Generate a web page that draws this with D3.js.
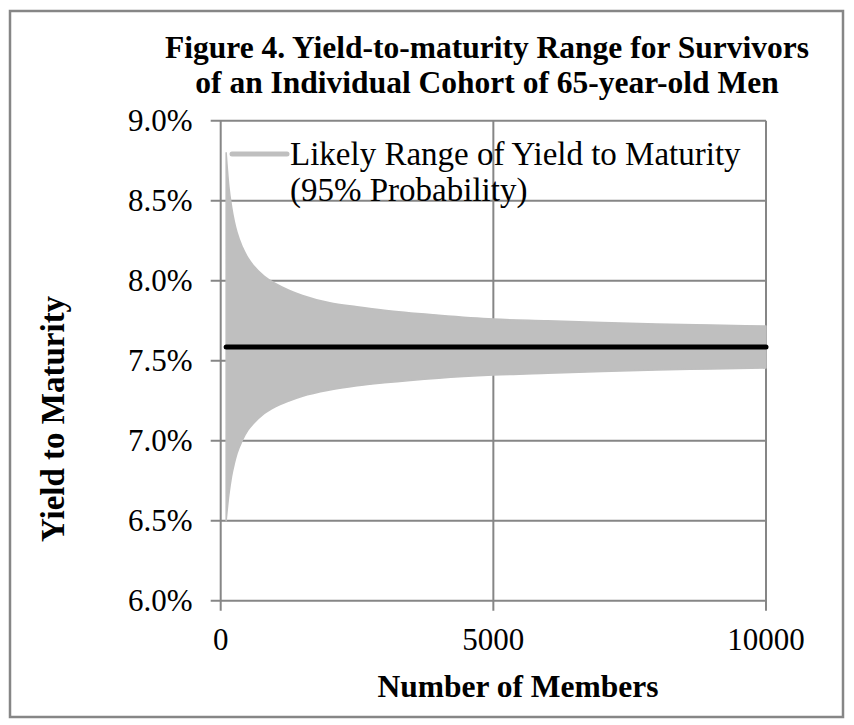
<!DOCTYPE html>
<html lang="en">
    <head>
        <meta charset="UTF-8"/>
        <title>Figure 4</title>
        <script src="https://d3js.org/d3.v7.min.js"></script>
        <style>
            body { margin: 0; background-color: #fff; }
            text { font-family: "Times New Roman", "Liberation Serif", serif; fill: #000; }
        </style>
    </head>
    <body>
        <div id="grafico"></div>
        <script>
            // values (yield in %)
            const members = [100, 150, 200, 250, 300, 400, 500, 600, 800, 1000, 1250, 1500,
                             2000, 2500, 3000, 4000, 5000, 6000, 7000, 8000, 9000, 10000];
            const upperYield = [8.80, 8.589, 8.462, 8.369, 8.301, 8.208, 8.142, 8.095, 8.027, 7.983, 7.941, 7.908,
                                7.862, 7.837, 7.815, 7.784, 7.760, 7.750, 7.739, 7.730, 7.723, 7.717];
            const lowerYield = [6.50, 6.662, 6.779, 6.858, 6.921, 7.005, 7.066, 7.107, 7.171, 7.212, 7.248, 7.278,
                                7.317, 7.343, 7.362, 7.391, 7.410, 7.422, 7.433, 7.442, 7.448, 7.454];
            const meanYield = [7.585, 7.585, 7.585, 7.585, 7.585, 7.585, 7.585, 7.585, 7.585, 7.585, 7.585, 7.585,
                               7.585, 7.585, 7.585, 7.585, 7.585, 7.585, 7.585, 7.585, 7.585, 7.585];
            const xTicks = [0, 5000, 10000];
            const yTicks = [6.0, 6.5, 7.0, 7.5, 8.0, 8.5, 9.0];
            const titleLines = ["Figure 4. Yield-to-maturity Range for Survivors",
                                "of an Individual Cohort of 65-year-old Men"];
            const legendLines = ["Likely Range of Yield to Maturity", "(95% Probability)"];

            const W = 854, H = 725;
            const margin = {top: 120.7, left: 220.7};
            const width = 545.3, height = 480;
            const gridColor = "#868686";

            const svg = d3.select("#grafico").append("svg")
                .attr("width", W)
                .attr("height", H);

            // outer frame
            svg.append("rect")
                .attr("x", 10).attr("y", 11)
                .attr("width", 833).attr("height", 706)
                .attr("fill", "none")
                .attr("stroke", gridColor)
                .attr("stroke-width", 2.5);

            const g = svg.append("g")
                .attr("transform", `translate(${margin.left},${margin.top})`);

            const x = d3.scaleLinear().domain([0, 10000]).range([0, width]);
            const y = d3.scaleLinear().domain([6, 9]).range([height, 0]);

            // grid lines
            g.append("g")
                .selectAll("line")
                .data(yTicks)
                .join("line")
                .attr("x1", -10).attr("x2", width)
                .attr("y1", d => y(d)).attr("y2", d => y(d))
                .attr("stroke", gridColor)
                .attr("stroke-width", 2);
            g.append("g")
                .selectAll("line")
                .data(xTicks)
                .join("line")
                .attr("x1", d => x(d)).attr("x2", d => x(d))
                .attr("y1", 0).attr("y2", height + 10)
                .attr("stroke", gridColor)
                .attr("stroke-width", 2);

            // tick labels
            g.append("g")
                .selectAll("text")
                .data(yTicks)
                .join("text")
                .attr("x", -28)
                .attr("y", d => y(d))
                .attr("dy", "0.34em")
                .attr("text-anchor", "end")
                .attr("font-size", 31)
                .text(d => d.toFixed(1) + "%");
            g.append("g")
                .selectAll("text")
                .data(xTicks)
                .join("text")
                .attr("x", d => x(d))
                .attr("y", height + 49)
                .attr("text-anchor", "middle")
                .attr("font-size", 31)
                .text(d => d);

            // range band
            const band = members.map((m, i) => ({m, lo: lowerYield[i], hi: upperYield[i], mean: meanYield[i]}));
            g.append("path")
                .datum(band)
                .attr("fill", "#bfbfbf")
                .attr("stroke", "#bfbfbf")
                .attr("stroke-width", 1.5)
                .attr("stroke-linejoin", "round")
                .attr("d", d3.area()
                    .x(d => x(d.m))
                    .y0(d => y(d.lo))
                    .y1(d => y(d.hi))
                    .curve(d3.curveMonotoneX));

            g.append("path")
                .datum(band)
                .attr("fill", "none")
                .attr("stroke", "#000")
                .attr("stroke-width", 5)
                .attr("stroke-linecap", "round")
                .attr("d", d3.line()
                    .x(d => x(d.m))
                    .y(d => y(d.mean)));

            // legend
            const legend = svg.append("g");
            legend.append("line")
                .attr("x1", 232).attr("x2", 287)
                .attr("y1", 154).attr("y2", 154)
                .attr("stroke", "#bfbfbf")
                .attr("stroke-width", 5)
                .attr("stroke-linecap", "round");
            legend.selectAll("text")
                .data(legendLines)
                .join("text")
                .attr("x", 290)
                .attr("y", (d, i) => 165 + i * 36)
                .attr("font-size", 33)
                .text(d => d);

            // titles
            svg.append("g")
                .selectAll("text")
                .data(titleLines)
                .join("text")
                .attr("x", 487)
                .attr("y", (d, i) => 58 + i * 35)
                .attr("text-anchor", "middle")
                .attr("font-size", 31.5)
                .attr("font-weight", "bold")
                .text(d => d);

            svg.append("text")
                .attr("x", 518)
                .attr("y", 697)
                .attr("text-anchor", "middle")
                .attr("font-size", 31.5)
                .attr("font-weight", "bold")
                .text("Number of Members");

            svg.append("text")
                .attr("transform", "translate(64,419) rotate(-90)")
                .attr("text-anchor", "middle")
                .attr("font-size", 33)
                .attr("font-weight", "bold")
                .text("Yield to Maturity");
        </script>
    </body>
</html>
